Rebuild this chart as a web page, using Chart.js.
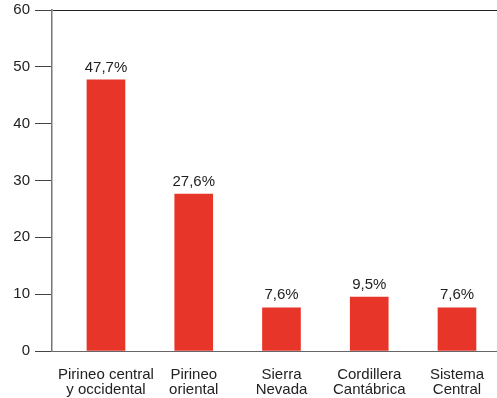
<!DOCTYPE html>
<html>
<head>
<meta charset="utf-8">
<script src="https://cdn.jsdelivr.net/npm/chart.js@4/dist/chart.umd.min.js"></script>
<style>
html,body{margin:0;padding:0;background:#fff;}
#c{display:block;}
</style>
</head>
<body>
<canvas id="c" width="497" height="398"></canvas>
<script>
const categories = ['Pirineo central\ny occidental', 'Pirineo\noriental', 'Sierra\nNevada', 'Cordillera\nCantábrica', 'Sistema\nCentral'];
const values = [47.7, 27.6, 7.6, 9.5, 7.6];
const yTicks = [0, 10, 20, 30, 40, 50, 60];

const FONT = '"Liberation Sans", Arial, sans-serif';
const TEXT = '#222';

const valueLabels = {
  id: 'valueLabels',
  afterDatasetsDraw(chart) {
    const ctx = chart.ctx;
    const meta = chart.getDatasetMeta(0);
    ctx.save();
    ctx.font = '15px ' + FONT;
    ctx.fillStyle = TEXT;
    ctx.textAlign = 'center';
    ctx.textBaseline = 'bottom';
    meta.data.forEach((bar, i) => {
      const txt = values[i].toFixed(1).replace('.', ',') + '%';
      ctx.fillText(txt, bar.x, bar.y - 5);
    });
    ctx.restore();
  }
};

const yGridColors = yTicks.map(v => v === 60 ? '#222' : (v === 0 ? '#666' : 'rgba(0,0,0,0)'));

new Chart(document.getElementById('c'), {
  type: 'bar',
  data: {
    datasets: [{
      data: values.map((v, i) => ({x: i, y: v})),
      backgroundColor: '#e8352a',
      borderWidth: 0,
      barThickness: 38
    }]
  },
  options: {
    responsive: false,
    animation: false,
    devicePixelRatio: 1,
    layout: {padding: {top: 10, right: 0, bottom: 0, left: 0}},
    plugins: {legend: {display: false}, tooltip: {enabled: false}},
    scales: {
      x: {
        type: 'linear',
        offset: false,
        min: -0.615,
        max: 4.456,
        afterFit: s => { s.height = 47; s.paddingLeft = 0; s.paddingRight = 0; },
        grid: {display: false, drawTicks: false, offset: false},
        border: {display: true, color: '#666', width: 1},
        afterBuildTicks: s => { s.ticks = categories.map((c, i) => ({value: i})); },
        ticks: {
          autoSkip: false,
          maxRotation: 0,
          padding: 16,
          color: TEXT,
          font: {family: FONT, size: 15, lineHeight: 1},
          callback: v => (Number.isInteger(v) && categories[v]) ? categories[v].split('\n') : ''
        }
      },
      y: {
        min: 0,
        max: 60,
        afterFit: s => { s.width = 52; s.paddingTop = 0; s.paddingBottom = 0; },
        afterBuildTicks: s => { s.ticks = yTicks.map(v => ({value: v})); },
        grid: {
          color: yGridColors,
          tickColor: '#444',
          tickLength: 17,
          lineWidth: 1
        },
        border: {display: true, color: '#777', width: 1.5},
        ticks: {
          padding: 5,
          color: TEXT,
          font: {family: FONT, size: 15}
        }
      }
    }
  },
  plugins: [valueLabels]
});
</script>
</body>
</html>
